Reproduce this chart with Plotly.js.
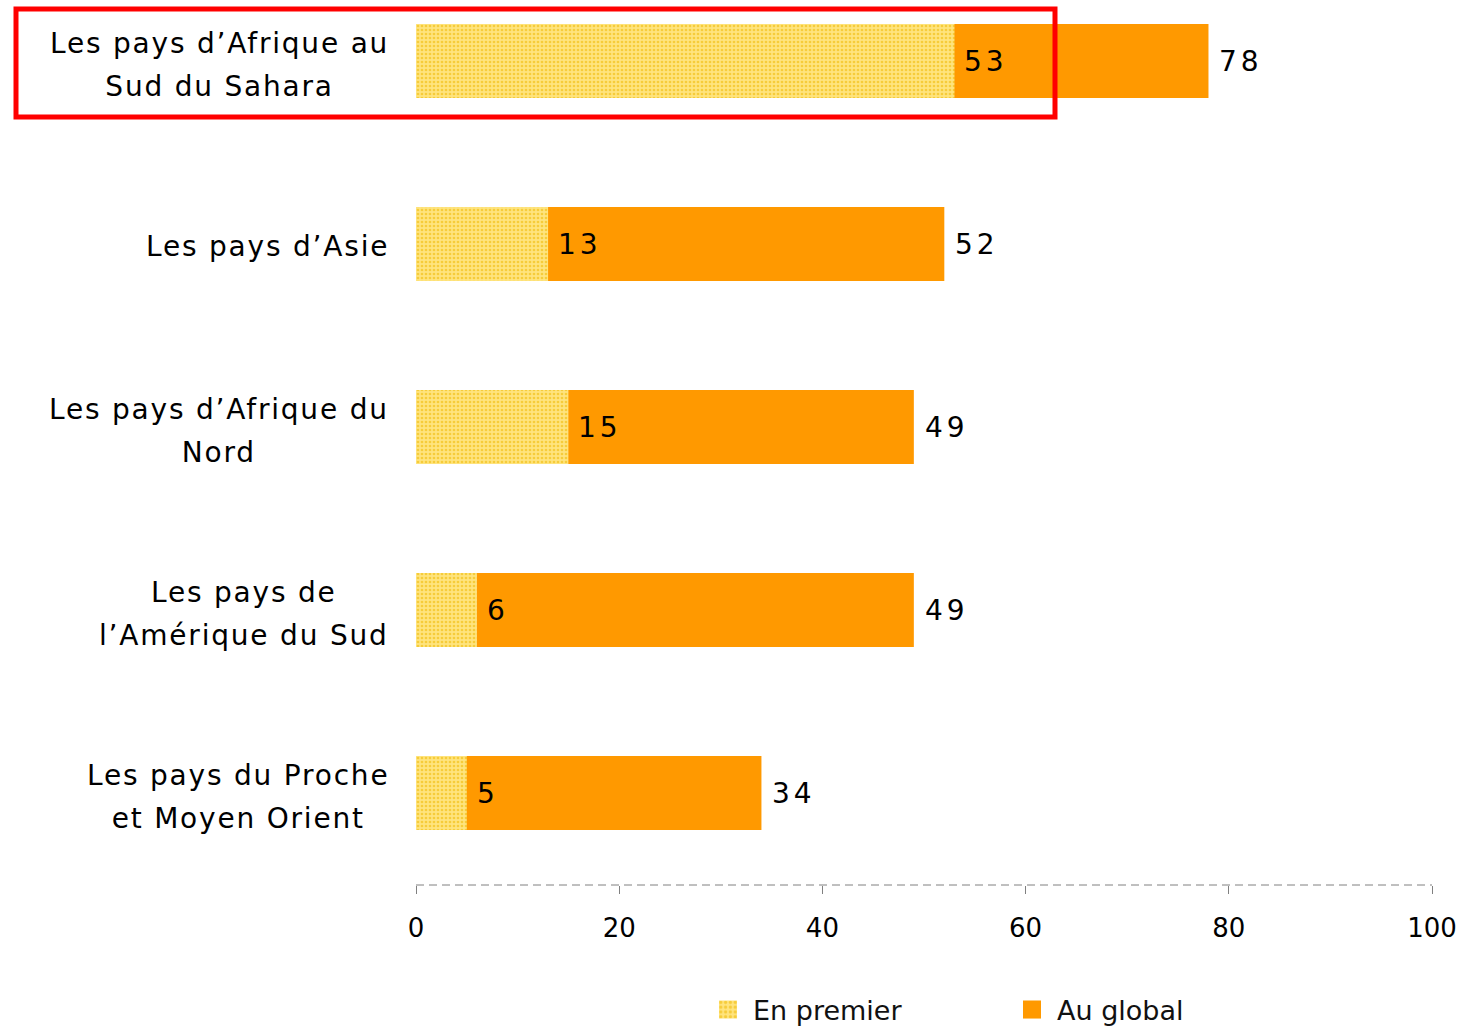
<!DOCTYPE html>
<html>
<head>
<meta charset="utf-8">
<script src="https://cdn.plot.ly/plotly-3.0.1.min.js"></script>
<style>
  html, body { margin: 0; padding: 0; background: #ffffff; }
  #chart { width: 1464px; height: 1026px; }
  text.annotation-text { letter-spacing: 1.8px; }
  .legendpoints path { transform: translate(15px, 0px) scale(1.5); }
</style>
</head>
<body>
<div id="chart"></div>
<script>
// ---- data ----
const categories = [
  "Les pays d’Afrique au<br>Sud du Sahara",
  "Les pays d’Asie",
  "Les pays d’Afrique du<br>Nord",
  "Les pays de<br>l’Amérique du Sud",
  "Les pays du Proche<br>et Moyen Orient"
];
const enPremier = [53, 13, 15, 6, 5];
const auGlobal = [78, 52, 49, 49, 34];
const xTicks = [0, 20, 40, 60, 80, 100];
const seriesNames = ["En premier", "Au global"];

// ---- layout geometry (pixels) ----
const W = 1464, H = 1026;
const M = { l: 416, r: 32, t: 0, b: 141, autoexpand: false };
const plotW = W - M.l - M.r, plotH = H - M.t - M.b;
const px2x = p => (p - M.l) / plotW;
const px2y = p => (H - M.b - p) / plotH;

const FONT = "DejaVu Sans, Verdana, sans-serif";
const LABEL_SIZE = 28, LINE_PX = 41;

const traces = [
  {
    type: "bar", orientation: "h", name: seriesNames[1],
    y: categories, x: auGlobal, width: 0.404,
    marker: { color: "#FF9900", line: { width: 0 } },
    hoverinfo: "x"
  },
  {
    type: "bar", orientation: "h", name: seriesNames[0],
    y: categories, x: enPremier, width: 0.404,
    marker: {
      color: "#FFE37E",
      line: { width: 0 },
      pattern: { shape: ".", bgcolor: "#FFE47E", fgcolor: "#F6CC3A", size: 4, solidity: 0.35, fillmode: "replace" }
    },
    hoverinfo: "x"
  }
];

const annotations = [];
categories.forEach((c, i) => {
  annotations.push({
    xref: "paper", yref: "y", x: 0, y: c, xanchor: "right", yanchor: "middle",
    xshift: -25, yshift: -3, text: c, showarrow: false, align: "center",
    font: { family: FONT, size: LABEL_SIZE, color: "#000" }
  });
});
const valueIdx = [];
categories.forEach((c, i) => {
  valueIdx.push(annotations.length);
  annotations.push({
    xref: "x", yref: "y", x: enPremier[i], y: c, xanchor: "left", yanchor: "middle",
    xshift: 8, yshift: -1, text: String(enPremier[i]), showarrow: false, align: "left",
    font: { family: FONT, size: 28, color: "#000" }
  });
  valueIdx.push(annotations.length);
  annotations.push({
    xref: "x", yref: "y", x: auGlobal[i], y: c, xanchor: "left", yanchor: "middle",
    xshift: 9, yshift: -1, text: String(auGlobal[i]), showarrow: false, align: "left",
    font: { family: FONT, size: 28, color: "#000" }
  });
});
// wider spacing for value labels
const st = document.createElement("style");
st.textContent = valueIdx.map(i => `.annotation[data-index="${i}"] text.annotation-text`).join(",") + "{letter-spacing:4px;}";
document.head.appendChild(st);

const layout = {
  width: W, height: H,
  margin: M,
  paper_bgcolor: "#ffffff", plot_bgcolor: "#ffffff",
  barmode: "overlay",
  font: { family: FONT, size: 26, color: "#000" },
  showlegend: true,
  legend: {
    orientation: "h", x: px2x(713), xanchor: "left", y: px2y(1010), yanchor: "middle",
    traceorder: "reversed", entrywidth: 259, entrywidthmode: "pixels",
    font: { family: FONT, size: 27, color: "#111" }, bgcolor: "rgba(0,0,0,0)"
  },
  xaxis: {
    range: [0, 100], tickvals: xTicks, ticktext: xTicks.map(String),
    ticks: "outside", ticklen: 8, tickwidth: 1, tickcolor: "#808080",
    ticklabelstandoff: 12,
    showline: false, showgrid: false, zeroline: false, fixedrange: true,
    tickfont: { family: FONT, size: 26, color: "#000" }
  },
  yaxis: {
    type: "category", categoryorder: "array", categoryarray: categories,
    range: [4.503, -0.333], showticklabels: false, ticks: "",
    showgrid: false, zeroline: false, showline: false, fixedrange: true
  },
  shapes: [
    { type: "line", xref: "paper", yref: "paper", x0: 0, x1: 1, y0: 0, y1: 0,
      line: { color: "#808080", width: 1, dash: "8px,5px" } },
    { type: "rect", xref: "paper", yref: "paper",
      x0: px2x(16), x1: px2x(1055), y0: px2y(117), y1: px2y(9),
      line: { color: "#FF0000", width: 5 }, fillcolor: "rgba(0,0,0,0)" }
  ],
  annotations: annotations
};

Plotly.newPlot("chart", traces, layout, { displayModeBar: false, staticPlot: true }).then(gd => {
  // widen the line spacing of the multi-line category labels
  for (let i = 0; i < categories.length; i++) {
    const t = gd.querySelector(`.annotation[data-index="${i}"] text.annotation-text`);
    if (!t) continue;
    const lines = t.querySelectorAll("tspan.line");
    if (lines.length < 2) continue;
    const defaultPx = 1.3 * LABEL_SIZE;
    const extra = LINE_PX - defaultPx;
    lines.forEach((ln, k) => { if (k > 0) ln.setAttribute("dy", (LINE_PX / LABEL_SIZE) + "em"); });
    const y0 = parseFloat(t.getAttribute("y")) || 0;
    const shiftUp = extra * (lines.length - 1) / 2;
    lines[0].setAttribute("y", y0 - shiftUp);
  }
});
</script>
</body>
</html>
